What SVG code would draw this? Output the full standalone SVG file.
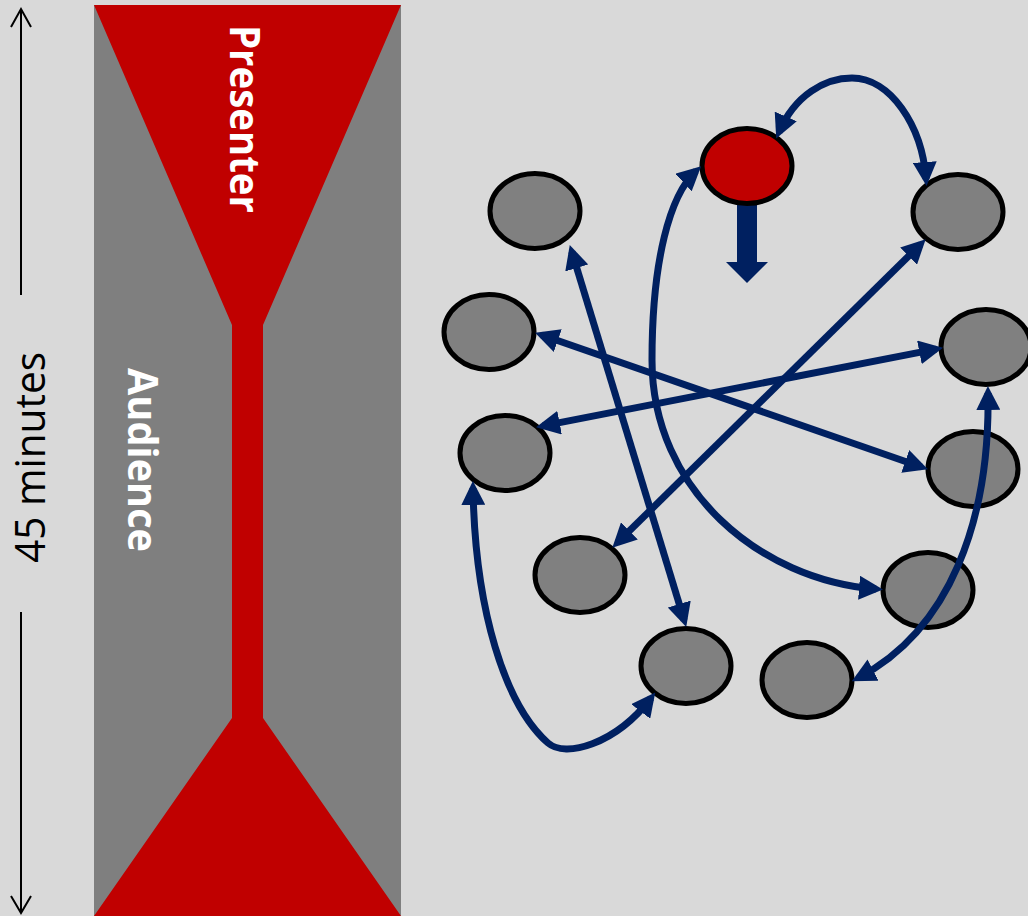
<svg xmlns="http://www.w3.org/2000/svg" width="1028" height="916" viewBox="0 0 1028 916">
  <style>
    .node { fill: #808080; stroke: #000000; stroke-width: 5; }
    .red { fill: #C00000; }
    .conn { fill: none; stroke: #002060; stroke-width: 7; marker-start: url(#ah); marker-end: url(#ah); }
    .time { fill: none; stroke: #000000; stroke-width: 2; }
    .lbl { font-family: "Open Sans", "Liberation Sans", sans-serif; font-weight: bold; fill: #FFFFFF; }
    .mins { font-family: "Open Sans", "Liberation Sans", sans-serif; fill: #000000; }
  </style>
  <defs>
    <marker id="ah" viewBox="0 0 24 24" refX="17" refY="12" markerWidth="24" markerHeight="24" markerUnits="userSpaceOnUse" orient="auto-start-reverse">
      <path d="M0,0 L24,12 L0,24 z" fill="#002060"/>
    </marker>
  </defs>
  <rect x="0" y="0" width="1028" height="916" fill="#D9D9D9"/>

  <g id="timeline">
    <path class="time" d="M21,295 L21,10 M11,27 L21,9 L31,27"/>
    <path class="time" d="M21,612 L21,912 M11,896 L21,913 L31,896"/>
    <text class="mins" font-size="42" transform="translate(45,563) rotate(-90)" textLength="211" lengthAdjust="spacingAndGlyphs">45 minutes</text>
  </g>

  <g id="hourglass">
    <rect x="94" y="5" width="307" height="911" fill="#7F7F7F"/>
    <polygon fill="#C00000" points="94,5 401,5 263,325 263,718 401,916 94,916 232,718 232,325"/>
    <text class="lbl" font-size="42" transform="translate(230,25) rotate(90)" textLength="188" lengthAdjust="spacingAndGlyphs">Presenter</text>
    <text class="lbl" font-size="42" transform="translate(128,368) rotate(90)" textLength="184" lengthAdjust="spacingAndGlyphs">Audience</text>
  </g>

  <g id="presenter-node">
    <polygon fill="#002060" points="737,200 757,200 757,262 768,262 747,283 726,262 737,262"/>
    <ellipse class="node red" cx="747" cy="166" rx="45" ry="37.5"/>
  </g>
  <g id="n1"><ellipse class="node" cx="535" cy="211" rx="45" ry="37.5"/></g>
  <g id="n2"><ellipse class="node" cx="958" cy="212" rx="45" ry="37.5"/></g>
  <g id="n3"><ellipse class="node" cx="489" cy="332" rx="45" ry="37.5"/></g>
  <g id="n4"><ellipse class="node" cx="986" cy="347" rx="45" ry="37.5"/></g>
  <g id="n5"><ellipse class="node" cx="505" cy="453" rx="45" ry="37.5"/></g>
  <g id="n6"><ellipse class="node" cx="973" cy="469" rx="45" ry="37.5"/></g>
  <g id="n7"><ellipse class="node" cx="580" cy="575" rx="45" ry="37.5"/></g>
  <g id="n8"><ellipse class="node" cx="928" cy="590" rx="45" ry="37.5"/></g>
  <g id="n9"><ellipse class="node" cx="686" cy="666" rx="45" ry="37.5"/></g>
  <g id="n10"><ellipse class="node" cx="807" cy="680" rx="45" ry="37.5"/></g>

  <g id="connectors">
    <path class="conn" d="M779,132 C795,95 825,78 852,78 C890,78 922,125 926,179"/>
    <path class="conn" d="M696,171 C670,195 652,260 652,360 C652,490 760,580 876,589"/>
    <path class="conn" d="M571.8,251.7 L684.2,620.3"/>
    <path class="conn" d="M920.7,244.2 L617.3,542.8"/>
    <path class="conn" d="M541.7,335 L921.3,467"/>
    <path class="conn" d="M542.9,425.9 L936.1,349.1"/>
    <path class="conn" d="M473,488 C475,610 505,705 548,743 C565,758 615,745 651,698"/>
    <path class="conn" d="M988,393 C990,520 950,630 858,678"/>
  </g>
</svg>
